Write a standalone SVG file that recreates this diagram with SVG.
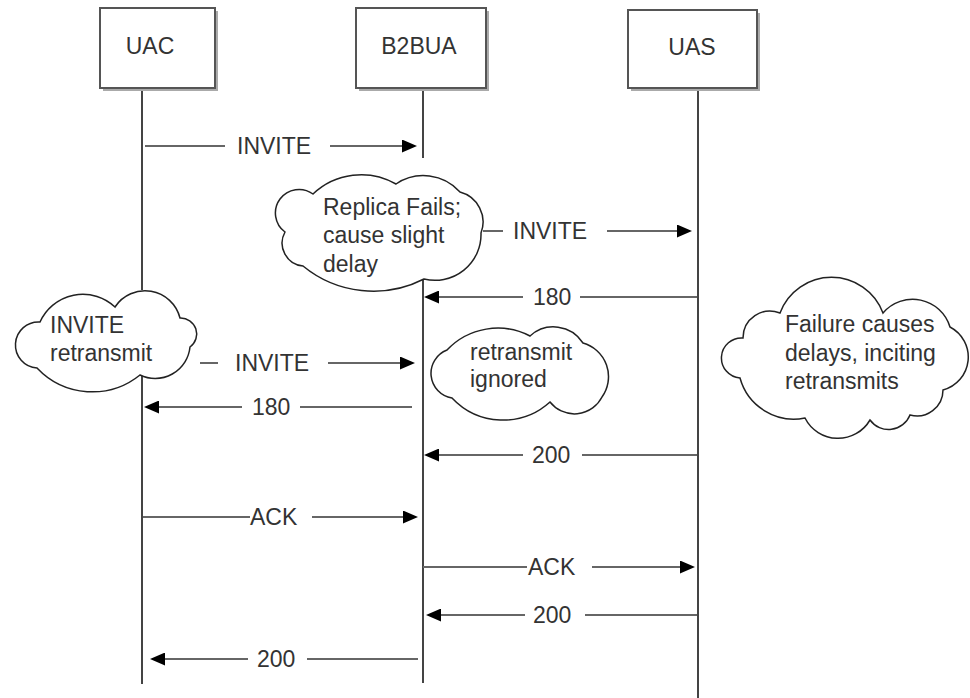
<svg xmlns="http://www.w3.org/2000/svg" width="970" height="698" viewBox="0 0 970 698">
  <style>
    text { font-family: "Liberation Sans", Arial, sans-serif; font-size: 23px; fill: #333; }
    .box { fill: #fff; stroke: #555; stroke-width: 2; }
    .shadow { fill: #aaa; }
    .life { stroke: #444; stroke-width: 2; fill: none; }
    .msg { stroke: #666; stroke-width: 2; fill: none; marker-end: url(#arrow); }
    .cloud { fill: #fff; stroke: #222; stroke-width: 1.5; }
  </style>
  <defs>
    <marker id="arrow" markerUnits="userSpaceOnUse" viewBox="0 0 15 13" refX="5" refY="6.5" markerWidth="15" markerHeight="13" orient="auto">
      <path d="M0,0 L15,6.5 L0,13 Z" fill="#000"/>
    </marker>
  </defs>
  <rect width="970" height="698" fill="#fff"/>

  <!-- lifelines -->
  <g id="lifelines">
    <path class="life" d="M142,88 V290 M142,373 V684"/>
    <path class="life" d="M423,88 V158 M423,279 V683"/>
    <path class="life" d="M698,88 V698"/>
  </g>

  <!-- participants -->
  <g id="uac">
    <rect class="shadow" x="103" y="11" width="115" height="80"/>
    <rect class="box" x="100" y="8" width="115" height="80"/>
    <text x="150" y="54" text-anchor="middle">UAC</text>
  </g>
  <g id="b2bua">
    <rect class="shadow" x="359" y="11" width="130" height="80"/>
    <rect class="box" x="356" y="8" width="130" height="80"/>
    <text x="419" y="54" text-anchor="middle">B2BUA</text>
  </g>
  <g id="uas">
    <rect class="shadow" x="631" y="13" width="129" height="78"/>
    <rect class="box" x="628" y="10" width="129" height="78"/>
    <text x="692" y="55" text-anchor="middle">UAS</text>
  </g>

  <!-- notes -->
  <g id="note-replica">
    <path class="cloud" d="M285,232 A23,23 0 0 1 313,194 A70,70 0 0 1 396,184 A49,49 0 0 1 460,192 A31,31 0 0 1 481,233 A46,46 0 0 1 424,279 A111,111 0 0 1 303,266 A23,23 0 0 1 285,232 Z"/>
    <text x="323" y="215">Replica Fails;</text>
    <text x="323" y="243">cause slight</text>
    <text x="323" y="272">delay</text>
  </g>
  <g id="note-retransmit">
    <path class="cloud" d="M40,322 A47,47 0 0 1 115,307 A36,36 0 0 1 180,318 A16,16 0 0 1 190,347 A35,35 0 0 1 140,375 A76,76 0 0 1 37,368 A23,23 0 0 1 40,322 Z"/>
    <text x="50" y="333">INVITE</text>
    <text x="50" y="361">retransmit</text>
  </g>
  <g id="note-ignored">
    <path class="cloud" d="M447,350 A70,70 0 0 1 530,336 A35,35 0 0 1 583,343 A35,35 0 0 1 602,397 A31,31 0 0 1 550,402 A70,70 0 0 1 452,398 A25,25 0 0 1 447,350 Z"/>
    <text x="470" y="360">retransmit</text>
    <text x="470" y="387">ignored</text>
  </g>
  <g id="note-failure">
    <path class="cloud" d="M743,338 A27,27 0 0 1 780,313 A55,55 0 0 1 883,313 A39,39 0 0 1 950,327 A34,34 0 0 1 943,390 A26,26 0 0 1 910,415 A23,23 0 0 1 870,420 A37,37 0 0 1 805,418 A56,56 0 0 1 740,378 A20,20 0 0 1 743,338 Z"/>
    <text x="785" y="332">Failure causes</text>
    <text x="785" y="361">delays, inciting</text>
    <text x="785" y="389">retransmits</text>
  </g>

  <!-- messages -->
  <g id="messages">
    <path class="msg" d="M145,146 H225 M330,146 H407"/>
    <text x="237" y="154">INVITE</text>

    <path class="msg" d="M483,231 H503 M607,231 H682"/>
    <text x="513" y="239">INVITE</text>

    <path class="msg" d="M697,297 H580 M523,297 H434"/>
    <text x="533" y="305">180</text>

    <path class="msg" d="M200,363 H218 M328,363 H405"/>
    <text x="235" y="371">INVITE</text>

    <path class="msg" d="M412,407 H300 M242,407 H154"/>
    <text x="252" y="415">180</text>

    <path class="msg" d="M697,455 H582 M523,455 H434"/>
    <text x="532" y="463">200</text>

    <path class="msg" d="M143,517 H250 M312,517 H408"/>
    <text x="250" y="525">ACK</text>

    <path class="msg" d="M423,567 H527 M592,567 H685"/>
    <text x="528" y="575">ACK</text>

    <path class="msg" d="M697,615 H585 M525,615 H436"/>
    <text x="533" y="623">200</text>

    <path class="msg" d="M418,659 H307 M248,659 H160"/>
    <text x="257" y="667">200</text>
  </g>
</svg>
